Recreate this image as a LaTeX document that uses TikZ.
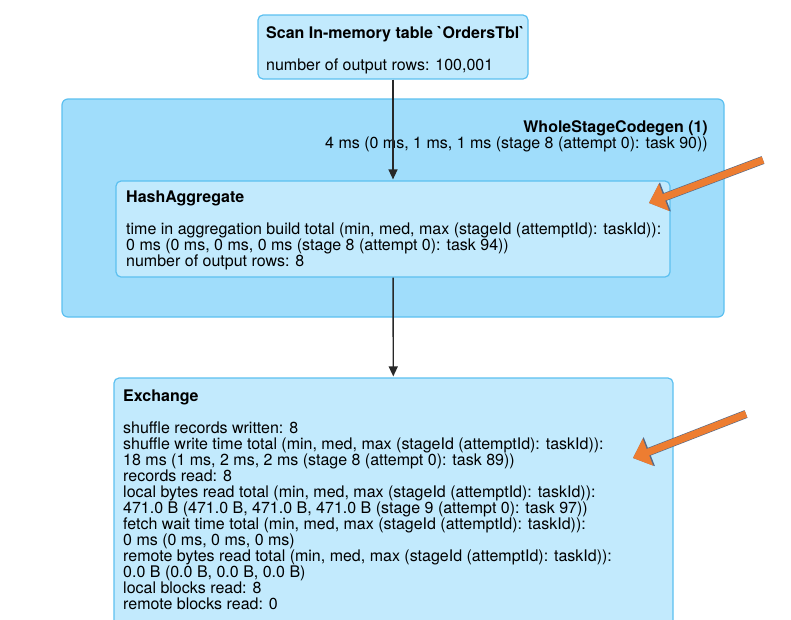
\documentclass[tikz,border=0pt]{standalone}
\usepackage{fontspec}
\setmainfont{TeX Gyre Heros}
\usetikzlibrary{arrows.meta}

\definecolor{clusterfill}{RGB}{160,221,251}
\definecolor{opfill}{RGB}{194,234,253}
\definecolor{opedge}{RGB}{92,192,240}
\definecolor{flowgray}{RGB}{40,40,40}
\definecolor{hintorange}{RGB}{237,125,49}
\definecolor{hintedge}{RGB}{85,105,135}

\begin{document}
\begin{tikzpicture}[x=1pt,y=-1pt,>={Triangle[length=10pt,width=9pt]},
                    font=\fontsize{16}{16}\selectfont]
  \tikzstyle{every node}=[inner sep=0pt]
  \tikzstyle{cluster}=[draw=opedge,fill=clusterfill,rounded corners=6pt,line width=1.2pt]
  \tikzstyle{op}=[draw=opedge,fill=opfill,rounded corners=5pt,line width=1.2pt]
  \tikzstyle{txt}=[anchor=base west]
  \tikzstyle{ttl}=[anchor=base west,font=\fontsize{16}{16}\selectfont\bfseries]
  \tikzstyle{flow}=[->,draw=flowgray,line width=1.4pt]
  \tikzstyle{hint}=[-{Triangle[length=16pt,width=28pt]},draw=hintorange,line width=7pt,
                    preaction={draw=hintedge,line width=8.2pt,-{Triangle[length=17.5pt,width=30pt]}}]

  \useasboundingbox (0,0) rectangle (791,619);

  % boxes
  \node[cluster,minimum width=662pt,minimum height=218pt] (W) at (393,208) {};
  \node[op,minimum width=270pt,minimum height=64pt] (S) at (393,47) {};
  \node[op,minimum width=554pt,minimum height=96pt] (H) at (393,229) {};
  \node[op,minimum width=559pt,minimum height=262pt] (X) at (393.5,509) {};

  % scan
  \node[ttl] (S0) at (266,38) {Scan In-memory table \textasciigrave OrdersTbl\textasciigrave};
  \node[txt] (S1) at (266,70) {number of output rows: 100,001};

  % whole stage codegen
  \node[ttl,anchor=base east] (W0) at (708,132) {WholeStageCodegen (1)};
  \node[txt,anchor=base east] (W1) at (708,148) {4 ms (0 ms, 1 ms, 1 ms (stage 8 (attempt 0): task 90))};

  % hash aggregate
  \node[ttl] (H0) at (126,202) {HashAggregate};
  \node[txt] (H1) at (126,234) {time in aggregation build total (min, med, max (stageId (attemptId): taskId)):};
  \node[txt] (H2) at (126,250) {0 ms (0 ms, 0 ms, 0 ms (stage 8 (attempt 0): task 94))};
  \node[txt] (H3) at (126,266) {number of output rows: 8};

  % exchange
  \node[ttl] (X0) at (123,401) {Exchange};
  \node[txt] (X1) at (123,433) {shuffle records written: 8};
  \node[txt] (X2) at (123,449) {shuffle write time total (min, med, max (stageId (attemptId): taskId)):};
  \node[txt] (X3) at (123,465) {18 ms (1 ms, 2 ms, 2 ms (stage 8 (attempt 0): task 89))};
  \node[txt] (X4) at (123,481) {records read: 8};
  \node[txt] (X5) at (123,497) {local bytes read total (min, med, max (stageId (attemptId): taskId)):};
  \node[txt] (X6) at (123,513) {471.0 B (471.0 B, 471.0 B, 471.0 B (stage 9 (attempt 0): task 97))};
  \node[txt] (X7) at (123,529) {fetch wait time total (min, med, max (stageId (attemptId): taskId)):};
  \node[txt] (X8) at (123,545) {0 ms (0 ms, 0 ms, 0 ms)};
  \node[txt] (X9) at (123,561) {remote bytes read total (min, med, max (stageId (attemptId): taskId)):};
  \node[txt] (X10) at (123,577) {0.0 B (0.0 B, 0.0 B, 0.0 B)};
  \node[txt] (X11) at (123,593) {local blocks read: 8};
  \node[txt] (X12) at (123,609) {remote blocks read: 0};

  \path (S) edge [flow,shorten >=1pt] (H)
        (H) edge [flow,shorten >=1pt] (X);

  % pointers
  \coordinate (P1) at (763,160);
  \coordinate (Q1) at (649,203);
  \coordinate (P2) at (746,414);
  \coordinate (Q2) at (633,458);
  \draw[hint] (P1) -- (Q1);
  \draw[hint] (P2) -- (Q2);
\end{tikzpicture}
\end{document}
